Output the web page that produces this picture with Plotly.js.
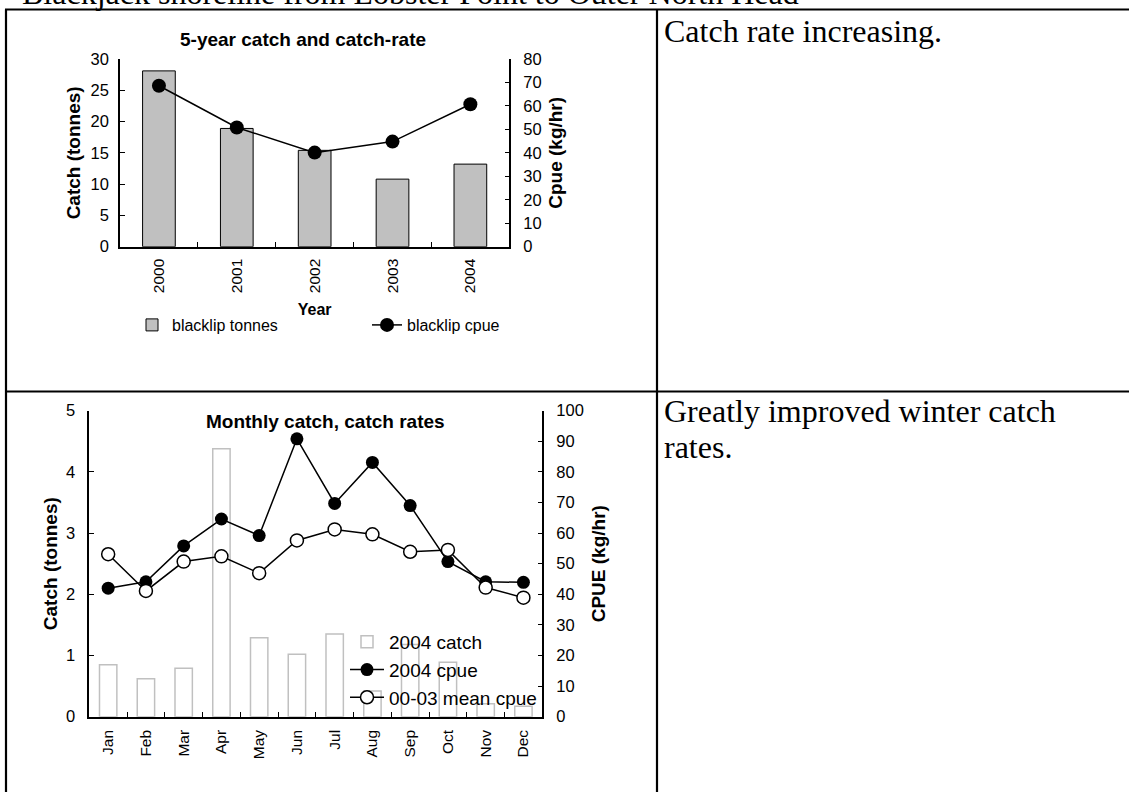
<!DOCTYPE html>
<html>
<head>
<meta charset="utf-8">
<script src="https://cdn.plot.ly/plotly-3.0.1.min.js"></script>
<style>
  html, body { margin: 0; padding: 0; background: #fff; }
  #chart { width: 1129px; height: 792px; }
</style>
</head>
<body>
<div id="chart"></div>
<script>
// ---- Data ----
const years = ['2000', '2001', '2002', '2003', '2004'];
const blacklipTonnes = [28.1, 18.9, 15.4, 10.8, 13.2];
const blacklipCpue = [68.6, 50.8, 40.1, 44.8, 60.7];

const months = ['Jan', 'Feb', 'Mar', 'Apr', 'May', 'Jun', 'Jul', 'Aug', 'Sep', 'Oct', 'Nov', 'Dec'];
const catch2004 = [0.85, 0.62, 0.79, 4.38, 1.29, 1.02, 1.35, 0.42, 1.18, 0.89, 0.21, 0.17];
const cpue2004 = [42.0, 44.1, 55.8, 64.6, 59.2, 90.8, 69.7, 83.1, 69.0, 50.7, 44.1, 43.9];
const cpueMean0003 = [53.1, 41.1, 50.7, 52.4, 46.9, 57.6, 61.2, 59.6, 53.9, 54.5, 42.2, 38.9];

// ---- Page geometry helpers ----
const W = 1129, H = 792;
const px = v => v / W;
const py = v => 1 - v / H;

const SANS = 'Liberation Sans, Arial, sans-serif';
const SERIF = 'Liberation Serif, Times New Roman, serif';

const traces = [
  {
    type: 'bar', x: years, y: blacklipTonnes, xaxis: 'x', yaxis: 'y',
    name: 'blacklip tonnes', legend: 'legend', width: 0.42,
    marker: { color: '#c0c0c0', line: { color: '#000', width: 1 } }
  },
  {
    type: 'scatter', mode: 'lines+markers', x: years, y: blacklipCpue, xaxis: 'x', yaxis: 'y2',
    name: 'blacklip cpue', legend: 'legend',
    line: { color: '#000', width: 1.5 },
    marker: { color: '#000', size: 14 }
  },
  {
    type: 'bar', x: months, y: catch2004, xaxis: 'x2', yaxis: 'y3',
    name: '2004 catch', legend: 'legend2', width: 0.46,
    marker: { color: '#ffffff', line: { color: '#c0c0c0', width: 1.5 } }
  },
  {
    type: 'scatter', mode: 'lines+markers', x: months, y: cpue2004, xaxis: 'x2', yaxis: 'y4',
    name: '2004 cpue', legend: 'legend2',
    line: { color: '#000', width: 1.5 },
    marker: { color: '#000', size: 13 }
  },
  {
    type: 'scatter', mode: 'lines+markers', x: months, y: cpueMean0003, xaxis: 'x2', yaxis: 'y4',
    name: '00-03 mean cpue', legend: 'legend2',
    line: { color: '#000', width: 1.5 },
    marker: { color: '#ffffff', size: 13, line: { color: '#000', width: 1.5 } }
  }
];

const axCommon = {
  showgrid: false, zeroline: false, showline: true,
  linecolor: '#000', linewidth: 1.5,
  ticks: 'inside', ticklen: 5, tickwidth: 1.2, tickcolor: '#000',
  tickfont: { family: SANS, size: 16.5, color: '#000' },
  fixedrange: true
};
const xCommon = Object.assign({}, axCommon, {
  type: 'category', tickson: 'boundaries', tickangle: -90,
  tickfont: { family: SANS, size: 15.5, color: '#000' }
});
const titleFont = { family: SANS, size: 19, color: '#000', weight: 'bold' };

const layout = {
  width: W, height: H,
  margin: { l: 0, r: 0, t: 0, b: 0 },
  paper_bgcolor: '#fff', plot_bgcolor: 'rgba(0,0,0,0)',
  showlegend: true,
  font: { family: SANS, color: '#000' },

  xaxis: Object.assign({}, xCommon, {
    domain: [px(120), px(509.3)], anchor: 'y', range: [-0.5, 4.5],
    ticklabelstandoff: 4,
    title: { text: 'Year', font: { family: SANS, size: 16, color: '#000', weight: 'bold' }, standoff: 12 }
  }),
  yaxis: Object.assign({}, axCommon, {
    domain: [py(246.7), py(59)], anchor: 'x', range: [0, 30], dtick: 5,
    ticklabelstandoff: 6,
    title: { text: 'Catch (tonnes)', font: titleFont, standoff: 5 }
  }),
  yaxis2: Object.assign({}, axCommon, {
    overlaying: 'y', side: 'right', anchor: 'x', range: [0, 80], dtick: 10,
    ticklabelstandoff: 9,
    title: { text: 'Cpue (kg/hr)', font: titleFont, standoff: 8 }
  }),

  xaxis2: Object.assign({}, xCommon, {
    domain: [px(89.3), px(542.3)], anchor: 'y3', range: [-0.5, 11.5],
    linewidth: 2, ticklabelstandoff: 5
  }),
  yaxis3: Object.assign({}, axCommon, {
    domain: [py(716.7), py(410.7)], anchor: 'x2', range: [0, 5], dtick: 1,
    ticklabelstandoff: 9,
    title: { text: 'Catch (tonnes)', font: titleFont, standoff: 3 }
  }),
  yaxis4: Object.assign({}, axCommon, {
    overlaying: 'y3', side: 'right', anchor: 'x2', range: [0, 100], dtick: 10,
    ticklabelstandoff: 9,
    title: { text: 'CPUE (kg/hr)', font: titleFont, standoff: 9 }
  }),

  legend: {
    orientation: 'h', x: px(132), xanchor: 'left', y: py(325), yanchor: 'middle',
    font: { family: SANS, size: 16, color: '#000' },
    bgcolor: 'rgba(0,0,0,0)', borderwidth: 0,
    entrywidth: 190, entrywidthmode: 'pixels', itemwidth: 30
  },
  legend2: {
    orientation: 'v', x: px(345), xanchor: 'left', y: py(623), yanchor: 'top',
    font: { family: SANS, size: 19, color: '#000' },
    bgcolor: 'rgba(0,0,0,0)', borderwidth: 0, itemwidth: 34, tracegroupgap: 0
  },

  shapes: [
    { type: 'line', xref: 'paper', yref: 'paper', x0: px(5), x1: 1, y0: py(9.5), y1: py(9.5), line: { color: '#000', width: 2.2 } },
    { type: 'line', xref: 'paper', yref: 'paper', x0: px(6), x1: px(6), y0: py(9.5), y1: 0, line: { color: '#000', width: 2.2 } },
    { type: 'line', xref: 'paper', yref: 'paper', x0: px(657), x1: px(657), y0: py(9.5), y1: 0, line: { color: '#000', width: 2.2 } },
    { type: 'line', xref: 'paper', yref: 'paper', x0: px(5), x1: 1, y0: py(391.5), y1: py(391.5), line: { color: '#000', width: 2.2 } }
  ],

  annotations: [
    { text: 'Blackjack shoreline from Lobster Point to Outer North Head', xref: 'paper', yref: 'paper',
      x: px(20), xanchor: 'left', y: py(-7), yanchor: 'middle', showarrow: false,
      font: { family: SERIF, size: 32, color: '#000' } },
    { text: 'Catch rate increasing.', xref: 'paper', yref: 'paper',
      x: px(662), xanchor: 'left', y: py(31), yanchor: 'middle', showarrow: false,
      font: { family: SERIF, size: 32, color: '#000' } },
    { text: 'Greatly improved winter catch', xref: 'paper', yref: 'paper',
      x: px(662), xanchor: 'left', y: py(410.5), yanchor: 'middle', showarrow: false,
      font: { family: SERIF, size: 32, color: '#000' } },
    { text: 'rates.', xref: 'paper', yref: 'paper',
      x: px(662), xanchor: 'left', y: py(447.5), yanchor: 'middle', showarrow: false,
      font: { family: SERIF, size: 32, color: '#000' } },
    { text: '<b>5-year catch and catch-rate</b>', xref: 'paper', yref: 'paper',
      x: px(303), xanchor: 'center', y: py(40), yanchor: 'middle', showarrow: false,
      font: { family: SANS, size: 19, color: '#000' } },
    { text: '<b>Monthly catch, catch rates</b>', xref: 'paper', yref: 'paper',
      x: px(325), xanchor: 'center', y: py(421.7), yanchor: 'middle', showarrow: false,
      font: { family: SANS, size: 19, color: '#000' } }
  ]
};

Plotly.newPlot('chart', traces, layout, { displayModeBar: false, responsive: false });
</script>
</body>
</html>
